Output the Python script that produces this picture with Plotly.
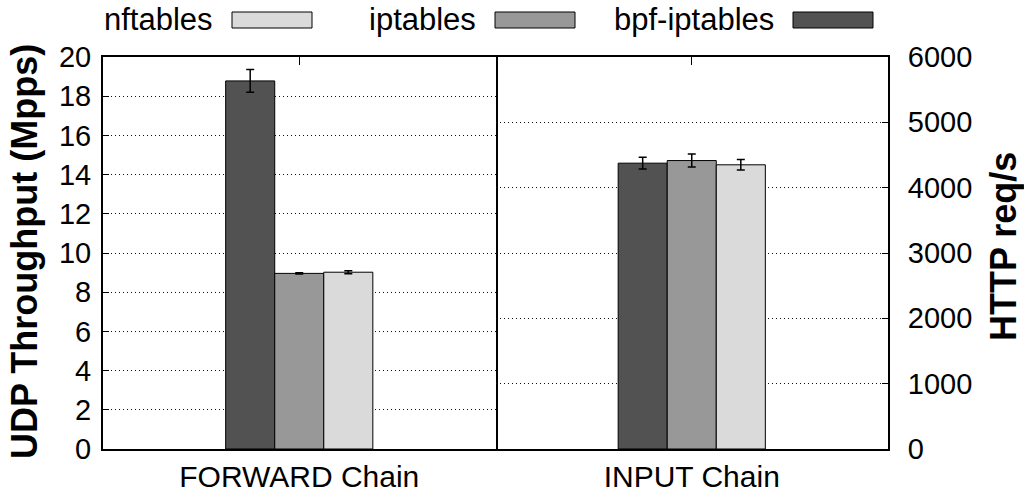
import plotly.graph_objects as go
from plotly.subplots import make_subplots

# ---- data ----
chains = ["FORWARD Chain", "INPUT Chain"]
series = ["bpf-iptables", "iptables", "nftables"]
colors = {"bpf-iptables": "#525252", "iptables": "#989898", "nftables": "#dadada"}

udp_mpps = {"bpf-iptables": 18.78, "iptables": 8.96, "nftables": 9.02}
udp_err = {"bpf-iptables": 0.58, "iptables": 0.03, "nftables": 0.08}

http_reqs = {"bpf-iptables": 4375, "iptables": 4415, "nftables": 4350}
http_err = {"bpf-iptables": 90, "iptables": 100, "nftables": 80}

left_ticks = list(range(0, 21, 2))
right_ticks = list(range(0, 6001, 1000))

# ---- figure geometry ----
W, H = 1024, 494
PL, PR, PT, PB = 103, 888, 57, 449          # plot box in pixels
ML, MT, MR, MB = PL, PT, W - PR, H - PB
pw, ph = PR - PL, PB - PT

def px(x):
    return (x - PL) / pw
def py(y):
    return (PB - y) / ph

fig = make_subplots(rows=1, cols=2, horizontal_spacing=0)

for s in series:
    fig.add_trace(go.Bar(
        x=[chains[0]], y=[udp_mpps[s]], name=s, marker_color=colors[s],
        marker_line=dict(color="black", width=1), showlegend=False,
        error_y=dict(type="data", array=[udp_err[s]], color="black", thickness=1.5, width=4),
    ), row=1, col=1)
for s in series:
    fig.add_trace(go.Bar(
        x=[chains[1]], y=[http_reqs[s]], name=s, marker_color=colors[s],
        marker_line=dict(color="black", width=1), showlegend=False,
        error_y=dict(type="data", array=[http_err[s]], color="black", thickness=1.5, width=4),
    ), row=1, col=2)

FONT = "Liberation Sans, Arial, sans-serif"
tickfont = dict(family=FONT, size=29, color="black")
xtickfont = dict(family=FONT, size=30, color="black")
titlefont = dict(family=FONT, size=36, color="black")

fig.update_xaxes(type="category", range=[-0.5, 0.5], showline=True, linewidth=2, linecolor="black",
                 mirror="ticks", ticks="inside", ticklen=8, tickwidth=1, tickcolor="black",
                 tickfont=xtickfont, showgrid=False, layer="below traces", automargin=False)

ycommon = dict(showline=True, linewidth=2, linecolor="black",
               ticks="inside", ticklen=6, tickcolor="black", tickfont=tickfont,
               showgrid=True, gridcolor="#111", griddash="1px,3px", gridwidth=1,
               zeroline=False, automargin=False)
fig.update_yaxes(range=[0, 20], tickvals=left_ticks, ticktext=[str(v) for v in left_ticks],
                 ticklabelstandoff=4, mirror=True, **ycommon, row=1, col=1)
fig.update_yaxes(range=[0, 6000], tickvals=right_ticks, ticktext=[str(v) for v in right_ticks],
                 side="right", ticklabelstandoff=12, mirror=False, **ycommon, row=1, col=2)

annotations = [
    dict(text="<b>UDP Throughput (Mpps)</b>", xref="paper", yref="paper",
         x=px(24), y=py(252), xanchor="center", yanchor="middle", textangle=-90,
         showarrow=False, font=titlefont),
    dict(text="<b>HTTP req/s</b>", xref="paper", yref="paper",
         x=px(1003), y=py(247), xanchor="center", yanchor="middle", textangle=-90,
         showarrow=False, font=titlefont),
]

# ---- gnuplot-style legend (text then swatch) ----
legend_items = [("nftables", 232), ("iptables", 495), ("bpf-iptables", 793)]
shapes = []
for name, x0 in legend_items:
    shapes.append(dict(type="rect", xref="paper", yref="paper",
                       x0=px(x0), x1=px(x0 + 80), y0=py(28), y1=py(12),
                       fillcolor=colors[name], line=dict(color="black", width=1)))
    annotations.append(dict(text=name, xref="paper", yref="paper", x=px(x0 - 18), y=py(20),
                            xanchor="right", yanchor="middle", showarrow=False, borderpad=0,
                            font=dict(family=FONT, size=31, color="black")))

fig.update_layout(
    width=W, height=H,
    margin=dict(l=ML, r=MR, t=MT, b=MB),
    barmode="group", bargap=0.625, bargroupgap=0,
    plot_bgcolor="white", paper_bgcolor="white",
    shapes=shapes, annotations=annotations,
    showlegend=False,
)

fig.write_html("out.html", config={"displayModeBar": False},
               post_script="document.body.style.margin='0';")
